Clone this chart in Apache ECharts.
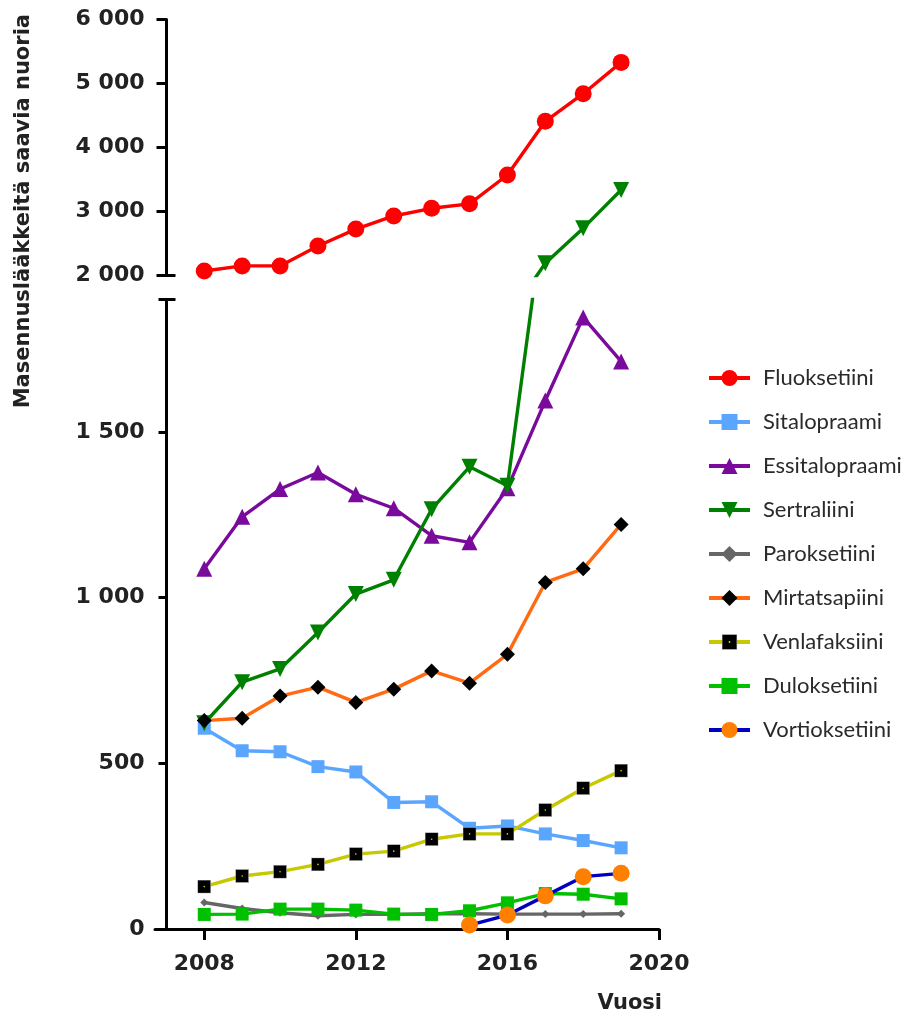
<!DOCTYPE html>
<html>
<head>
<meta charset="utf-8">
<script src="https://cdn.jsdelivr.net/npm/echarts@6/dist/echarts.min.js"></script>
<style>
html,body{margin:0;padding:0;background:#fff;}
#chart{width:911px;height:1017px;}
</style>
</head>
<body>
<div id="chart"></div>
<script>
// ---- data ----
var years = [2008, 2009, 2010, 2011, 2012, 2013, 2014, 2015, 2016, 2017, 2018, 2019];
var fluoksetiini   = [2070, 2150, 2150, 2460, 2725, 2930, 3050, 3120, 3570, 4410, 4840, 5330];
var sitalopraami   = [606, 538, 535, 490, 474, 382, 384, 304, 311, 287, 267, 245];
var essitalopraami = [1087, 1244, 1328, 1378, 1312, 1270, 1187, 1167, 1330, 1595, 1846, 1713];
var sertraliini    = [621, 745, 785, 895, 1011, 1054, 1267, 1395, 1338, 2190, 2740, 3335];
var paroksetiini   = [80, 62, 49, 40, 44, 44, 46, 46, 45, 45, 45, 46];
var mirtatsapiini  = [629, 636, 703, 730, 684, 724, 779, 742, 829, 1046, 1087, 1221];
var venlafaksiini  = [128, 160, 173, 195, 226, 235, 271, 287, 287, 359, 425, 478];
var duloksetiini   = [44, 45, 60, 60, 57, 45, 44, 55, 79, 107, 105, 91];
var vortioksetiini = [null, null, null, null, null, null, null, 12, 42, 100, 158, 168];

var xTicks = [2008, 2012, 2016, 2020];
var yTopTicks = [2000, 3000, 4000, 5000, 6000];
var yBottomTicks = [0, 500, 1000, 1500];
var yBottomMax = 1900;
var yTopMin = 2000, yTopMax = 6000;

var yTitle = 'Masennuslääkkeitä saavia nuoria';
var xTitle = 'Vuosi';

// ---- build ----
function fmt(v) { return String(v).replace(/\B(?=(\d{3})+(?!\d))/g, ' '); }
function pairs(vals) { return years.map(function (y, i) { return [y, vals[i]]; }); }

var venlaSymbol = 'image://data:image/svg+xml;utf8,' + encodeURIComponent(
  "<svg xmlns='http://www.w3.org/2000/svg' width='28' height='28'><rect x='1' y='1' width='26' height='26' fill='#000' stroke='#bbb' stroke-width='1'/><circle cx='14' cy='14' r='1.6' fill='#d8d800'/></svg>");

var defs = [
  {name: 'Fluoksetiini', data: fluoksetiini, line: '#ff0000', sym: 'circle', symColor: '#ff0000', size: 17},
  {name: 'Sitalopraami', data: sitalopraami, line: '#5aa6ff', sym: 'rect', symColor: '#5aa6ff', size: 13},
  {name: 'Essitalopraami', data: essitalopraami, line: '#7a0a9c', sym: 'triangle', symColor: '#7a0a9c', size: 16},
  {name: 'Sertraliini', data: sertraliini, line: '#008000', sym: 'triangle', rotate: 180, symColor: '#008000', size: 16},
  {name: 'Paroksetiini', data: paroksetiini, line: '#666666', sym: 'diamond', symColor: '#666666', size: 8},
  {name: 'Mirtatsapiini', data: mirtatsapiini, line: '#ff6a13', sym: 'diamond', symColor: '#000000', size: 15},
  {name: 'Venlafaksiini', data: venlafaksiini, line: '#c8c800', sym: venlaSymbol, symColor: '#000000', size: 14},
  {name: 'Duloksetiini', data: duloksetiini, line: '#00c000', sym: 'rect', symColor: '#00c000', size: 13},
  {name: 'Vortioksetiini', data: vortioksetiini, line: '#0000c0', sym: 'circle', symColor: '#ff8000', size: 17}
];

var series = [];
[0, 1].forEach(function (g) {
  defs.forEach(function (d) {
    series.push({
      type: 'line',
      name: d.name,
      xAxisIndex: g,
      yAxisIndex: g,
      data: pairs(d.data),
      clip: true,
      symbol: d.sym,
      symbolRotate: d.rotate || 0,
      symbolSize: d.size,
      showAllSymbol: true,
      lineStyle: {color: d.line, width: 3.4},
      itemStyle: {color: d.symColor, borderWidth: 0},
      emphasis: {disabled: true}
    });
  });
});

var tickFont = {fontFamily: 'DejaVu Sans', fontWeight: 'bold', fontSize: 22, color: '#222'};
var axisBlack = {show: true, lineStyle: {color: '#000', width: 3}};

var option = {
  animation: false,
  backgroundColor: '#fff',
  grid: [
    {left: 155, right: 252, top: 19.5, height: 256},
    {left: 155, right: 252, top: 299.5, bottom: 88}
  ],
  xAxis: [
    {type: 'value', gridIndex: 0, min: 2006.7, max: 2020, show: false},
    {type: 'value', gridIndex: 1, min: 2006.7, max: 2020,
      axisLine: axisBlack,
      axisTick: {show: true, length: 11, inside: false, lineStyle: {color: '#000', width: 3}, customValues: xTicks},
      axisLabel: Object.assign({margin: 24, customValues: xTicks, formatter: function (v) { return String(v); }}, tickFont),
      splitLine: {show: false}}
  ],
  yAxis: [
    {type: 'value', gridIndex: 0, position: 'left', min: yTopMin, max: yTopMax, offset: -11.5,
      axisLine: axisBlack,
      axisTick: {show: true, length: 10, lineStyle: {color: '#000', width: 3}, customValues: yTopTicks},
      axisLabel: Object.assign({margin: 22, customValues: yTopTicks, formatter: fmt}, tickFont),
      splitLine: {show: false}},
    {type: 'value', gridIndex: 1, position: 'left', min: 0, max: yBottomMax, offset: -11.5,
      axisLine: axisBlack,
      axisTick: {show: true, length: 8, lineStyle: {color: '#000', width: 3}, customValues: yBottomTicks.concat([yBottomMax])},
      axisLabel: Object.assign({margin: 22, customValues: yBottomTicks, formatter: fmt}, tickFont),
      splitLine: {show: false}},
    {type: 'value', gridIndex: 0, position: 'left', min: yTopMin, max: yTopMax, offset: -11.5,
      axisLine: {show: false},
      axisTick: {show: true, inside: true, length: 9, lineStyle: {color: '#000', width: 3}, customValues: [yTopMin]},
      axisLabel: {show: false}, splitLine: {show: false}},
    {type: 'value', gridIndex: 1, position: 'left', min: 0, max: yBottomMax, offset: -11.5,
      axisLine: {show: false},
      axisTick: {show: true, inside: true, length: 9, lineStyle: {color: '#000', width: 3}, customValues: [yBottomMax]},
      axisLabel: {show: false}, splitLine: {show: false}}
  ],
  legend: {
    orient: 'vertical',
    left: 702,
    top: 362,
    itemWidth: 41,
    itemHeight: 20,
    itemGap: 22,
    data: defs.map(function (d) { return d.name; }),
    lineStyle: {width: 4},
    textStyle: {fontFamily: 'Lato', fontSize: 22, color: '#2a2a2a', lineHeight: 22, padding: [0, 0, 0, 8]},
    selectedMode: false
  },
  graphic: [
    {type: 'text', left: 13, top: 14, rotation: Math.PI / 2, originX: 0, originY: 0,
      style: {text: yTitle, fontFamily: 'DejaVu Sans', fontWeight: 'bold', fontSize: 21, fill: '#222'}},
    {type: 'text', right: 249, top: 993,
      style: {text: xTitle, fontFamily: 'DejaVu Sans', fontWeight: 'bold', fontSize: 21, fill: '#222'}}
  ],
  series: series
};

var chart = echarts.init(document.getElementById('chart'), null, {renderer: 'canvas'});
chart.setOption(option);
</script>
</body>
</html>
